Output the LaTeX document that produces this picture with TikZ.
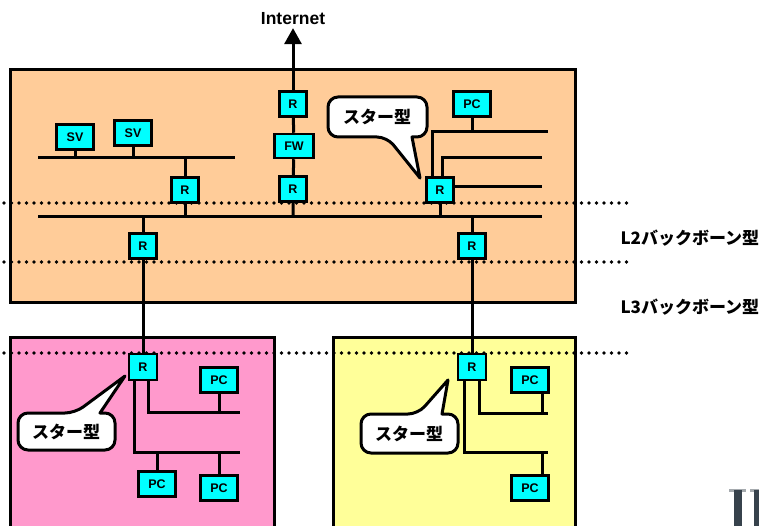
\documentclass[tikz,border=0pt]{standalone}
\usepackage{fontspec}
\setmainfont{Liberation Sans}
\newfontfamily\jp{Noto Sans CJK JP}
\usetikzlibrary{arrows.meta,backgrounds}
\definecolor{orangebg}{HTML}{FFCC99}
\definecolor{pinkbg}{HTML}{FF99CC}
\definecolor{yellowbg}{HTML}{FFFF99}
\definecolor{devcyan}{HTML}{00FFFF}
\definecolor{artgray}{HTML}{37424C}
\begin{document}
\begin{tikzpicture}[x=1pt,y=-1pt,
  wire/.style={line width=3pt},
  dev/.style={draw, fill=devcyan, line width=2.5pt, inner sep=0pt, font=\bfseries\fontsize{12.5}{15}\selectfont},
  rtr/.style={dev, minimum width=27pt, minimum height=25pt},
  pcbox/.style={dev, minimum width=37pt, minimum height=25pt},
  area/.style={draw, line width=3pt},
  dotline/.style={line width=3.8pt, line cap=round, dash pattern=on 0pt off 7.5pt},
  callout/.style={draw, fill=white, line width=3pt, line join=round},
  jplabel/.style={font=\jp\bfseries\fontsize{17}{20}\selectfont}]
\useasboundingbox (0,0) rectangle (759,526);

% devices
\node[rtr] (rInet) at (293,104) {R};
\node[dev, minimum width=39pt, minimum height=24pt] (fw) at (294,146) {FW};
\node[rtr] (rCore) at (293,189) {R};
\node[pcbox] (sv1) at (75,137) {SV};
\node[pcbox] (sv2) at (133,133) {SV};
\node[rtr] (rSV) at (185,190) {R};
\node[rtr] (rL) at (143,246) {R};
\node[rtr] (rR) at (472,246) {R};
\node[rtr] (rStar) at (440,190) {R};
\node[pcbox] (pcTop) at (472,104) {PC};
\node[rtr, minimum width=28pt, minimum height=26pt] (rPink) at (143,367) {R};
\node[pcbox] (pcP1) at (219,380) {PC};
\node[pcbox] (pcP2) at (157,484) {PC};
\node[pcbox] (pcP3) at (219,488) {PC};
\node[rtr, minimum width=28pt, minimum height=26pt] (rYel) at (472,367) {R};
\node[pcbox] (pcY1) at (530,380) {PC};
\node[pcbox] (pcY2) at (530,488) {PC};

\node[font=\bfseries\fontsize{17.5}{20}\selectfont] (inet) at (293,18.5) {Internet};
\node[jplabel, anchor=west] (l2) at (617,238) {L2バックボーン型};
\node[jplabel, anchor=west] (l3) at (617,307) {L3バックボーン型};

% bar coordinates
\coordinate (bbL) at (38,217); \coordinate (bbR) at (542,217);
\coordinate (svL) at (38,158); \coordinate (svR) at (235,158);
\coordinate (s1) at (432,132); \coordinate (s1e) at (548,132);
\coordinate (s2) at (442,158); \coordinate (s2e) at (542,158);
\coordinate (s3e) at (542,187);
\coordinate (p1) at (148,412); \coordinate (p1e) at (240,412);
\coordinate (p2) at (134,452); \coordinate (p2e) at (240,452);
\coordinate (y1) at (479,413); \coordinate (y1e) at (548,413);
\coordinate (y2) at (464,452); \coordinate (y2e) at (548,452);
\coordinate (yst) at (542,0);

\begin{scope}[on background layer]
  \path[area, fill=orangebg] (10,70) rectangle (575,302);
  \path[area, fill=pinkbg] (10,337) rectangle (274,540);
  \path[area, fill=yellowbg] (333,337) rectangle (575,540);
  \draw[dotline] (4,203) -- (634,203);
  \draw[dotline] (4,262) -- (634,262);
  \draw[dotline] (4,353) -- (634,353);
  % wires
  \draw[wire] (bbL) -- (bbR);
  \draw[wire] (svL) -- (svR);
  \draw[wire] (sv1) -- (sv1 |- svL);
  \draw[wire] (sv2) -- (sv2 |- svL);
  \draw[wire] (rSV |- svL) -- (rSV) -- (rSV |- bbL);
  \draw[wire] (rInet) -- (fw) -- (rCore) -- (rCore |- bbL);
  \draw[wire] (rL |- bbL) -- (rL) -- (rPink);
  \draw[wire] (rR |- bbL) -- (rR) -- (rYel);
  \draw[wire] (rStar) -- (rStar |- bbL);
  \draw[wire] (rStar -| s1) -- (s1) -- (s1e);
  \draw[wire] (rStar -| s2) -- (s2) -- (s2e);
  \draw[wire] (s3e -| rStar) -- (s3e);
  \draw[wire] (pcTop) -- (pcTop |- s1);
  \draw[wire] (rPink -| p1) -- (p1) -- (p1e);
  \draw[wire] (rPink -| p2) -- (p2) -- (p2e);
  \draw[wire] (pcP1) -- (pcP1 |- p1);
  \draw[wire] (pcP2) -- (pcP2 |- p2);
  \draw[wire] (pcP3) -- (pcP3 |- p2);
  \draw[wire] (rYel -| y1) -- (y1) -- (y1e);
  \draw[wire] (rYel -| y2) -- (y2) -- (y2e);
  \draw[wire] (yst |- pcY1) -- (yst |- y1);
  \draw[wire] (yst |- pcY2) -- (yst |- y2);
  \draw[wire, -{Triangle[width=17pt,length=16pt]}] (rInet.north) -- (inet.south);
\end{scope}

% callouts
\draw[callout, rounded corners=10pt] (380,97) -- (328,97) -- (328,137) -- (387,137) [sharp corners] -- (420,178) -- (412,137) [rounded corners=10pt] -- (427,137) -- (427,97) -- cycle;
\node[jplabel] (c1) at (377,117) {スター型};
\draw[callout, rounded corners=10pt] (60,450) -- (18,450) -- (18,413) -- (75,413) [sharp corners] -- (125,376) -- (100,413) [rounded corners=10pt] -- (115,413) -- (115,450) -- cycle;
\node[jplabel] (c2) at (66,432) {スター型};
\draw[callout, rounded corners=10pt] (400,453) -- (361,453) -- (361,414) -- (418,414) [sharp corners] -- (448,380) -- (442,414) [rounded corners=10pt] -- (458,414) -- (458,453) -- cycle;
\node[jplabel] (c3) at (409,434) {スター型};

% cut-off glyph at lower right
\fill[artgray!45] (729,489) rectangle (746,492);
\fill[artgray] (734,490) rectangle (742,526);
\fill[artgray!45] (750,489) rectangle (759,492);
\fill[artgray] (754,490) rectangle (759,526);
\end{tikzpicture}
\end{document}
